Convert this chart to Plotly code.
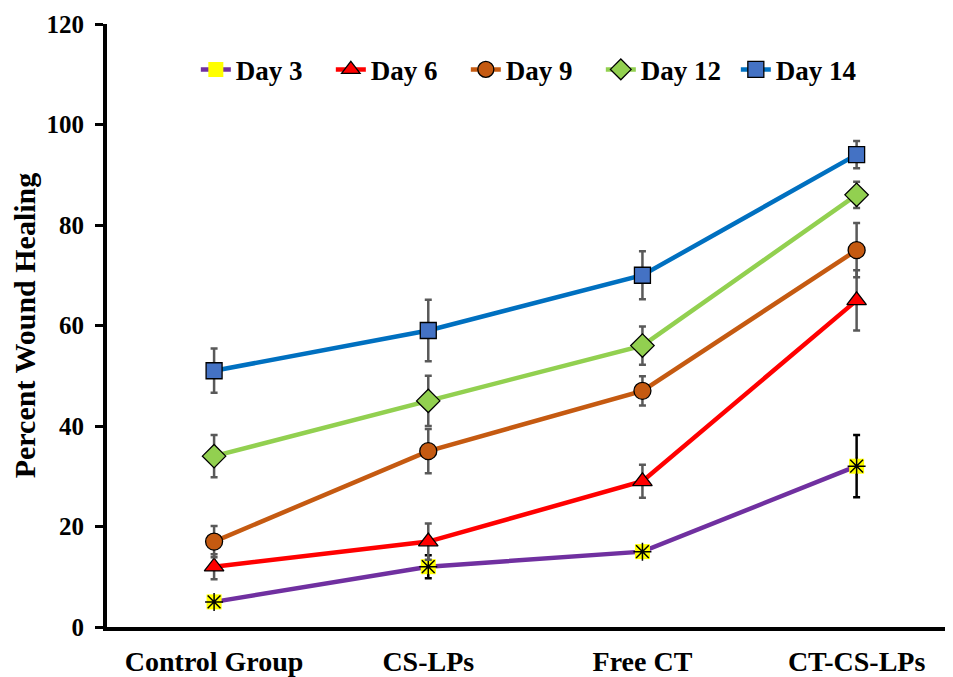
import plotly.graph_objects as go

categories = ["Control Group", "CS-LPs", "Free CT", "CT-CS-LPs"]
day3 = [5, 12, 15, 32]
day3_err = [1.0, 2.3, 1.0, 6.2]
day6 = [12, 17, 29, 65]
day6_err = [2.5, 3.6, 3.3, 6.0]
day9 = [17, 35, 47, 75]
day9_err = [3.1, 4.4, 2.9, 5.4]
day12 = [34, 45, 56, 86]
day12_err = [4.2, 5.0, 3.8, 2.6]
day14 = [51, 59, 70, 94]
day14_err = [4.4, 6.1, 4.8, 2.7]

FONT = "Liberation Serif"
fig = go.Figure()

def add(name, y, err, line_color, marker_color, symbol, err_color="#595959", size=15):
    fig.add_trace(go.Scatter(
        x=categories, y=y, name=name, mode="lines+markers",
        line=dict(color=line_color, width=4.5),
        marker=dict(symbol=symbol, size=size, color=marker_color,
                    line=dict(color="black", width=1.3)),
        error_y=dict(type="data", array=err, visible=True, color=err_color,
                     thickness=2.5, width=3.5),
    ))

# Day 3: yellow square with asterisk overlay
fig.add_trace(go.Scatter(
    x=categories, y=day3, name="Day 3", mode="lines+markers",
    line=dict(color="#7030A0", width=4.5),
    marker=dict(symbol="square", size=15, color="#FFFF00", line=dict(width=0)),
    error_y=dict(type="data", array=day3_err, visible=True, color="black",
                 thickness=2.5, width=3.5),
))
fig.add_trace(go.Scatter(
    x=categories, y=day3, mode="markers", showlegend=False, hoverinfo="skip",
    marker=dict(symbol="asterisk-open", size=15, color="black",
                line=dict(color="black", width=1.5)),
))
add("Day 6", day6, day6_err, "#FF0000", "#FF0000", "triangle-up", size=17)
add("Day 9", day9, day9_err, "#C55A11", "#C55A11", "circle", size=17)
add("Day 12", day12, day12_err, "#92D050", "#92D050", "diamond", size=18)
add("Day 14", day14, day14_err, "#0070C0", "#4472C4", "square", size=16)

# page body has an 8px margin, so the figure is 8px smaller than the window
fig.update_layout(
    width=945, height=669,
    margin=dict(l=99, r=0, t=16, b=47),
    plot_bgcolor="white", paper_bgcolor="white",
    font=dict(family=FONT, color="black"),
    showlegend=True,
    legend=dict(orientation="h", x=0.105, y=0.924, xanchor="left", yanchor="middle",
                font=dict(family=FONT, size=27, color="black", weight="bold"),
                itemwidth=30, entrywidth=90, entrywidthmode="pixels",
                bgcolor="rgba(0,0,0,0)", tracegroupgap=0),
)
fig.update_xaxes(
    type="category", range=[-0.5, 3.45],
    showline=True, linecolor="black", linewidth=4, mirror=False,
    showgrid=False, ticks="", zeroline=False,
    tickfont=dict(family=FONT, size=28, color="black", weight="bold"),
    ticklabelstandoff=6,
)
fig.update_yaxes(
    range=[0, 120], dtick=20,
    showline=True, linecolor="black", linewidth=4,
    showgrid=False, zeroline=False,
    ticks="outside", ticklen=8, tickwidth=3, tickcolor="black",
    tickfont=dict(family=FONT, size=25, color="black", weight="bold"),
    ticklabelstandoff=6,
    title=dict(text="Percent Wound Healing", standoff=12,
               font=dict(family=FONT, size=30, color="black", weight="bold")),
)

fig.write_html("out.html")
